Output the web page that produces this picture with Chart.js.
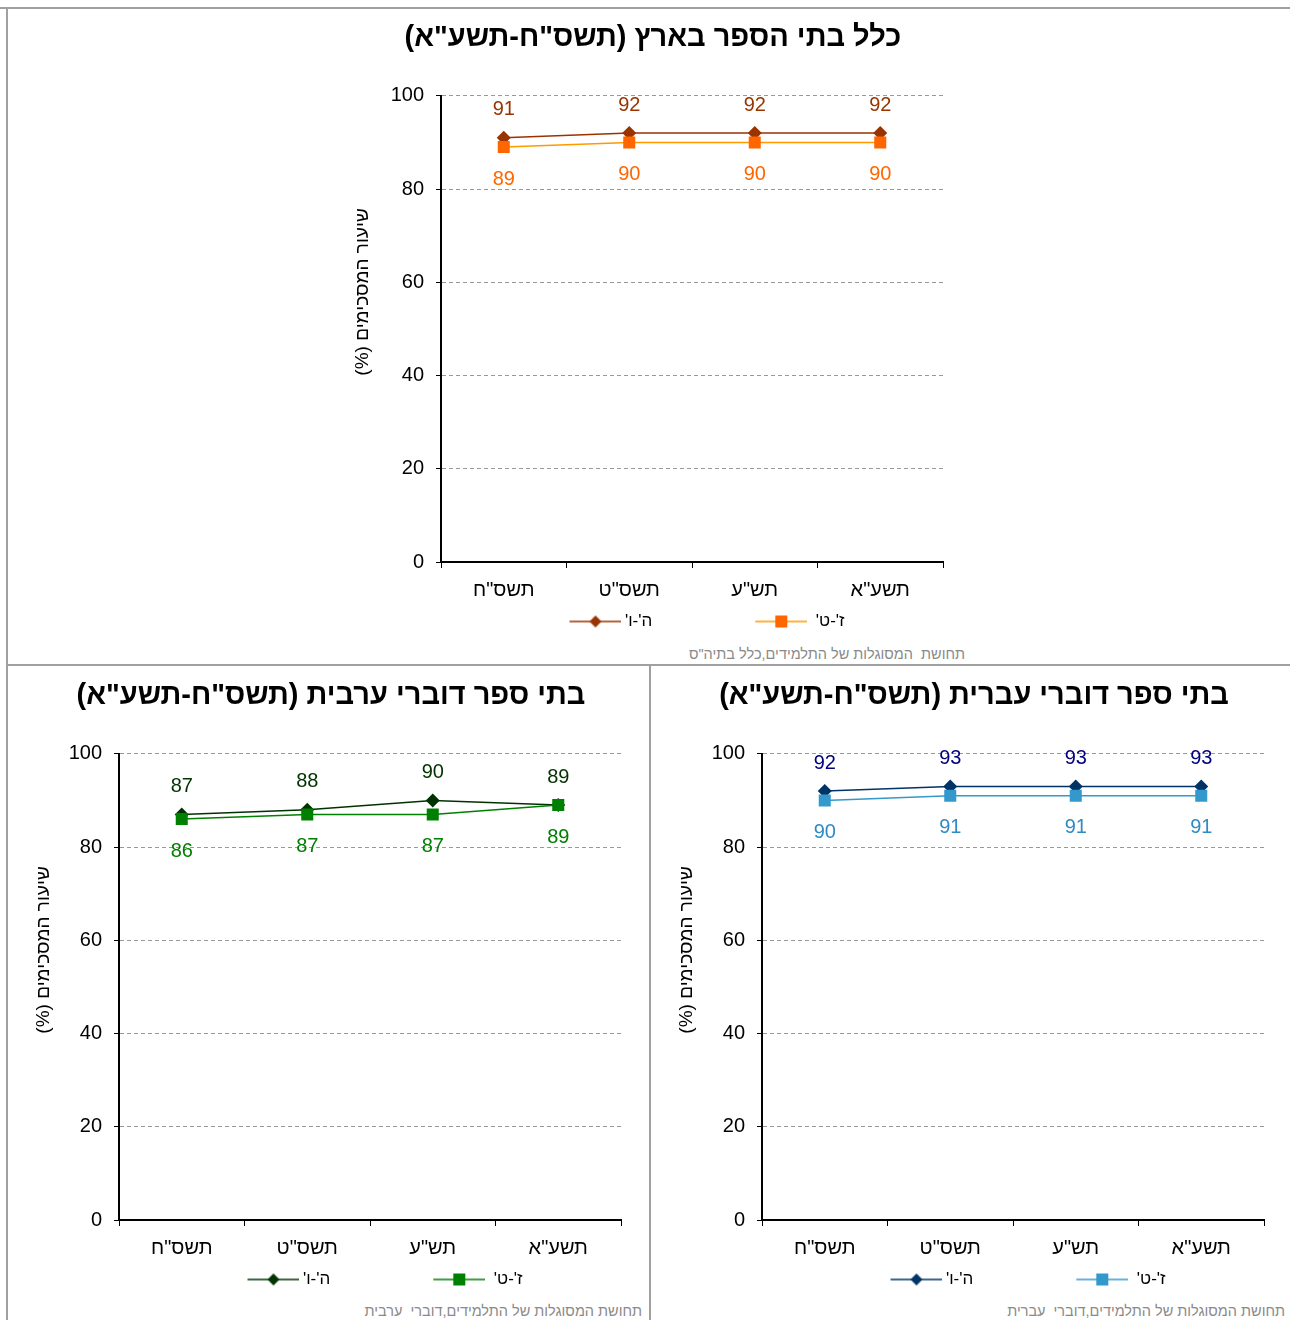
<!DOCTYPE html>
<html lang="he">
<head>
<meta charset="utf-8">
<script src="https://cdn.jsdelivr.net/npm/chart.js@4.4.1/dist/chart.umd.min.js"></script>
<style>
  html, body { margin: 0; padding: 0; background: #fff; overflow: hidden; }
  body { width: 1290px; height: 1320px; position: relative; font-family: "Liberation Sans", Arial, sans-serif; }
  canvas { position: absolute; direction: rtl; }
  .rule { position: absolute; background: #a0a0a0; }
  .foot { position: absolute; direction: rtl; text-align: right; font-size: 14.5px; line-height: 16px; color: #8a8a8a; white-space: pre; }
</style>
</head>
<body>
<div class="rule" style="left:0;top:7px;width:1290px;height:2px"></div>
<div class="rule" style="left:6px;top:7px;width:2px;height:1313px"></div>
<div class="rule" style="left:7px;top:664px;width:1283px;height:2px"></div>
<div class="rule" style="left:649px;top:665px;width:2px;height:655px"></div>

<canvas id="allChart" width="674" height="630" style="left:316px;top:10px"></canvas>
<canvas id="arabicChart" width="628" height="630" style="left:17px;top:668px"></canvas>
<canvas id="hebrewChart" width="628" height="630" style="left:660px;top:668px"></canvas>

<div class="foot" style="left:560px;width:405px;top:646px">תחושת  המסוגלות של התלמידים,כלל בתיה"ס</div>
<div class="foot" style="left:260px;width:382px;top:1303px">תחושת המסוגלות של התלמידים,דוברי  ערבית</div>
<div class="foot" style="left:903px;width:382px;top:1303px">תחושת המסוגלות של התלמידים,דוברי  עברית</div>

<script>
const years = ['תשס"ח', 'תשס"ט', 'תש"ע', 'תשע"א'];
const seriesNames = ["ה'-ו'", "ז'-ט'"];
const yTicks = [0, 20, 40, 60, 80, 100];

// כלל בתי הספר
const all56 = [91, 92, 92, 92];
const all79 = [89, 90, 90, 90];
// דוברי ערבית
const arabic56 = [87, 88, 90, 89];
const arabic79 = [86, 87, 87, 89];
// דוברי עברית
const hebrew56 = [92, 93, 93, 93];
const hebrew79 = [90, 91, 91, 91];

const FONT = "'Liberation Sans', Arial, sans-serif";
// trailing spaces push the rotated axis title up a bit, like in Excel
const yTitle = 'שיעור המסכימים (%)' + '\u00A0'.repeat(14);

// line + marker picture for the legend, visible part sits at the right end
function legendIcon(lineColor, markerColor, shape, w) {
  const c = document.createElement('canvas');
  c.width = w; c.height = 14;
  const g = c.getContext('2d');
  const x0 = w - 52, mid = w - 26;
  g.strokeStyle = lineColor;
  g.lineWidth = 1.5;
  g.beginPath(); g.moveTo(x0, 7); g.lineTo(w, 7); g.stroke();
  g.fillStyle = markerColor;
  if (shape === 'diamond') {
    g.beginPath(); g.moveTo(mid, 1); g.lineTo(mid + 6, 7); g.lineTo(mid, 13); g.lineTo(mid - 6, 7); g.closePath(); g.fill();
  } else {
    g.fillRect(mid - 6, 1, 12, 12);
  }
  return c;
}

const valueLabels = {
  id: 'valueLabels',
  afterDatasetsDraw(chart, args, opts) {
    const ctx = chart.ctx;
    ctx.save();
    ctx.font = '20px ' + FONT;
    ctx.textAlign = 'center';
    ctx.textBaseline = 'middle';
    chart.data.datasets.forEach((ds, i) => {
      const meta = chart.getDatasetMeta(i);
      ctx.fillStyle = opts.colors[i];
      meta.data.forEach((pt, j) => {
        ctx.fillText(ds.data[j], pt.x, pt.y + opts.offsets[i]);
      });
    });
    ctx.restore();
  }
};

function makeChart(id, title, d56, d79, s) {
  const icons = [
    legendIcon(s.line56, s.mark56, 'diamond', 165),
    legendIcon(s.line79, s.mark79, 'square', 155)
  ];
  return new Chart(document.getElementById(id), {
    type: 'line',
    data: {
      labels: years,
      datasets: [{
        label: seriesNames[0],
        data: d56,
        borderColor: s.line56,
        backgroundColor: s.mark56,
        borderWidth: 1.5,
        pointStyle: 'rectRot',
        pointRadius: 7,
        pointBorderWidth: 0,
        order: 1
      }, {
        label: seriesNames[1],
        data: d79,
        borderColor: s.line79,
        backgroundColor: s.mark79,
        borderWidth: 1.5,
        pointStyle: 'rect',
        pointRadius: 8.5,
        pointBorderWidth: 0,
        order: 0
      }]
    },
    options: {
      responsive: false,
      animation: false,
      events: [],
      layout: { padding: 0 },
      scales: {
        x: {
          offset: true,
          grid: { display: true, drawOnChartArea: false, drawTicks: true, tickLength: 6, tickColor: '#000', offset: true },
          border: { display: true, color: '#000', width: 2 },
          ticks: { color: '#000', font: { family: FONT, size: 20 }, padding: 10, maxRotation: 0 },
          afterFit: sc => { sc.height = 51; }
        },
        y: {
          min: 0, max: 100,
          afterBuildTicks: sc => { sc.ticks = yTicks.map(v => ({ value: v })); },
          grid: { color: '#9a9a9a', lineWidth: 1, tickLength: 5, tickColor: '#000', tickBorderDash: [] },
          border: { display: true, color: '#000', width: 2, dash: [4, 3] },
          ticks: { color: '#000', font: { family: FONT, size: 20 }, padding: 12 },
          title: { display: true, text: yTitle, color: '#000', font: { family: FONT, size: 19 }, padding: { top: s.yTitlePad, bottom: 0 } },
          afterFit: sc => { sc.width = s.yWidth; }
        },
        pad: {
          position: 'right',
          display: true,
          grid: { display: false },
          border: { display: false },
          ticks: { display: false },
          afterFit: sc => { sc.width = s.padRight; }
        }
      },
      plugins: {
        title: {
          display: true,
          text: title,
          color: '#000',
          font: { family: FONT, size: 29, weight: 'bold' },
          padding: { top: 11, bottom: 40 }
        },
        legend: {
          position: 'bottom',
          fullSize: true,
          labels: {
            usePointStyle: true,
            pointStyleWidth: 155,
            color: '#000',
            font: { family: FONT, size: 17 },
            padding: 0,
            generateLabels: chart => chart.data.datasets.map((ds, i) => ({
              text: ds.label,
              pointStyle: icons[i],
              fillStyle: 'transparent',
              strokeStyle: 'transparent',
              lineWidth: 0,
              hidden: false,
              datasetIndex: i,
              fontColor: '#000'
            }))
          }
        },
        tooltip: { enabled: false },
        valueLabels: { colors: s.labels, offsets: [-28, 32] }
      }
    },
    plugins: [valueLabels]
  });
}

makeChart('allChart', 'כלל בתי הספר בארץ (תשס"ח-תשע"א)', all56, all79, {
  line56: '#993300', mark56: '#993300', line79: '#FF9900', mark79: '#FF6600',
  labels: ['#993300', '#FF6600'], yWidth: 125, yTitlePad: 35, padRight: 47
});
makeChart('arabicChart', 'בתי ספר דוברי ערבית (תשס"ח-תשע"א)', arabic56, arabic79, {
  line56: '#003300', mark56: '#003300', line79: '#008000', mark79: '#008000',
  labels: ['#003300', '#008000'], yWidth: 102, yTitlePad: 15, padRight: 24
});
makeChart('hebrewChart', 'בתי ספר דוברי עברית (תשס"ח-תשע"א)', hebrew56, hebrew79, {
  line56: '#003366', mark56: '#003366', line79: '#3399CC', mark79: '#3399CC',
  labels: ['#000080', '#2E8BC4'], yWidth: 102, yTitlePad: 15, padRight: 24
});
</script>
</body>
</html>
